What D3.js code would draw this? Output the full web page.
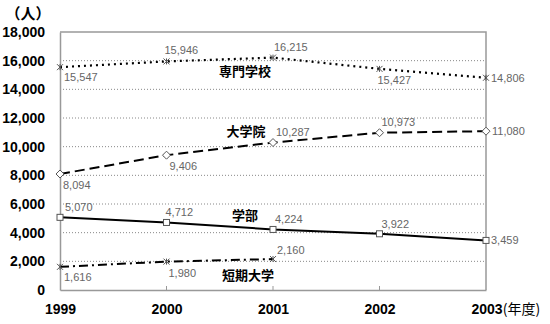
<!DOCTYPE html>
<html><head><meta charset="utf-8">
<script src="https://cdn.jsdelivr.net/npm/d3@7"></script>
<style>body{margin:0;background:#fff}svg{display:block}</style>
</head><body>
<svg id="c" width="550" height="324"></svg>
<script>
const years = ["1999","2000","2001","2002","2003"];
const yTicks = [0,2000,4000,6000,8000,10000,12000,14000,16000,18000];
const senmon = [15547,15946,16215,15427,14806];
const daigakuin = [8094,9406,10287,10973,11080];
const gakubu = [5070,4712,4224,3922,3459];
const tanki = [1616,1980,2160];
const seriesNames = ["専門学校","大学院","学部","短期大学"];

const svg = d3.select("#c");
const L=60,R=486,T=32,B=290;
const x = d3.scalePoint().domain(years).range([L,R]);
const y = d3.scaleLinear().domain([0,18000]).range([B,T]);
const jp = "'Noto Sans CJK JP', sans-serif";
const num = "'Liberation Sans', Arial, sans-serif";

// gridlines
svg.append("g").selectAll("line").data(yTicks.filter(d=>d>0&&d<18000)).join("line")
  .attr("x1",L).attr("x2",R).attr("y1",d=>y(d)).attr("y2",d=>y(d))
  .attr("stroke","#888").attr("stroke-width",1).attr("stroke-dasharray","1,2");
// frame
svg.append("path").attr("d",`M${L},${T}H${R}V${B}`).attr("fill","none").attr("stroke","#999").attr("stroke-width",1.5);
// axes
const ya = svg.append("g").attr("transform",`translate(${L},0)`)
  .call(d3.axisLeft(y).tickValues(yTicks).tickSize(0).tickPadding(15).tickFormat(d3.format(",")));
ya.select(".domain").attr("stroke","#999").attr("stroke-width",1.5);
ya.selectAll("text").attr("font-family",num).attr("font-weight","bold").attr("font-size",14).attr("fill","#000");
const xa = svg.append("g").attr("transform",`translate(0,${B})`)
  .call(d3.axisBottom(x).tickSize(0).tickPadding(14).tickFormat(d=>d));
xa.select(".domain").attr("stroke","#999").attr("stroke-width",1.5);
xa.selectAll("text").attr("font-family",num).attr("font-weight","bold").attr("font-size",14).attr("fill","#000");
xa.selectAll(".tick").filter(d=>d==="2003").select("text").attr("text-anchor","start").attr("dx",-15)
  .text("2003").append("tspan").attr("font-family",jp).attr("font-weight","normal").attr("font-size",14).text("(年度)");
// inner ticks
svg.append("g").selectAll("line").data(years.slice(1,4)).join("line")
  .attr("x1",d=>x(d)).attr("x2",d=>x(d)).attr("y1",B-4).attr("y2",B).attr("stroke","#999");
svg.append("text").attr("x",28).attr("y",19).attr("text-anchor","middle").attr("font-family",jp)
  .attr("font-size",15).attr("font-weight","bold").text("（人）");

const line = d3.line().x((d,i)=>x(years[i])).y(d=>y(d));
const series = [
  {v:senmon,dash:"2,4",w:2.2,m:"x"},
  {v:daigakuin,dash:"10,5",w:2,m:"diamond"},
  {v:gakubu,dash:null,w:2,m:"square"},
  {v:tanki,dash:"9,4,2,4",w:2,m:"x"}
];
series.forEach(s=>{
  svg.append("path").attr("d",line(s.v)).attr("fill","none").attr("stroke","#000")
    .attr("stroke-width",s.w).attr("stroke-dasharray",s.dash);
  const g = svg.append("g");
  s.v.forEach((d,i)=>{
    const cx=x(years[i]), cy=y(d);
    if(s.m==="x"){
      g.append("path").attr("d",`M${cx-3},${cy-3}L${cx+3},${cy+3}M${cx-3},${cy+3}L${cx+3},${cy-3}M${cx},${cy-3}V${cy+3}`)
        .attr("stroke","#555").attr("stroke-width",1).attr("fill","none");
    } else if(s.m==="diamond"){
      g.append("path").attr("d",`M${cx},${cy-4}L${cx+4},${cy}L${cx},${cy+4}L${cx-4},${cy}Z`)
        .attr("fill","#fff").attr("stroke","#555").attr("stroke-width",1);
    } else {
      g.append("rect").attr("x",cx-3).attr("y",cy-3).attr("width",6).attr("height",6)
        .attr("fill","#fff").attr("stroke","#555").attr("stroke-width",1);
    }
  });
});

// value labels: [series, index, dx, dy, anchor]
const lab = [
  [senmon,0,4,14,"start"],[senmon,1,-2,-7,"start"],[senmon,2,1,-7,"start"],[senmon,3,-2,15,"start"],[senmon,4,5,4,"start"],
  [daigakuin,0,3,15,"start"],[daigakuin,1,3,15,"start"],[daigakuin,2,3,-7,"start"],[daigakuin,3,2,-7,"start"],[daigakuin,4,6,4,"start"],
  [gakubu,0,5,-6,"start"],[gakubu,1,-1,-6,"start"],[gakubu,2,2,-6,"start"],[gakubu,3,2,-6,"start"],[gakubu,4,5,4,"start"],
  [tanki,0,4,14,"start"],[tanki,1,2,15,"start"],[tanki,2,4,-5,"start"]
];
svg.append("g").selectAll("text").data(lab).join("text")
  .attr("x",d=>x(years[d[1]])+d[2]).attr("y",d=>y(d[0][d[1]])+d[3]).attr("text-anchor",d=>d[4])
  .attr("font-family",num).attr("font-size",11).attr("fill","#666").text(d=>d3.format(",")(d[0][d[1]]));

const namePos = [[245,76],[246,136],[245,220],[248,280]];
svg.append("g").selectAll("text").data(seriesNames).join("text")
  .attr("x",(d,i)=>namePos[i][0]).attr("y",(d,i)=>namePos[i][1]).attr("text-anchor","middle")
  .attr("font-family",jp).attr("font-weight","bold").attr("font-size",13).attr("fill","#000").text(d=>d);
</script>
</body></html>
